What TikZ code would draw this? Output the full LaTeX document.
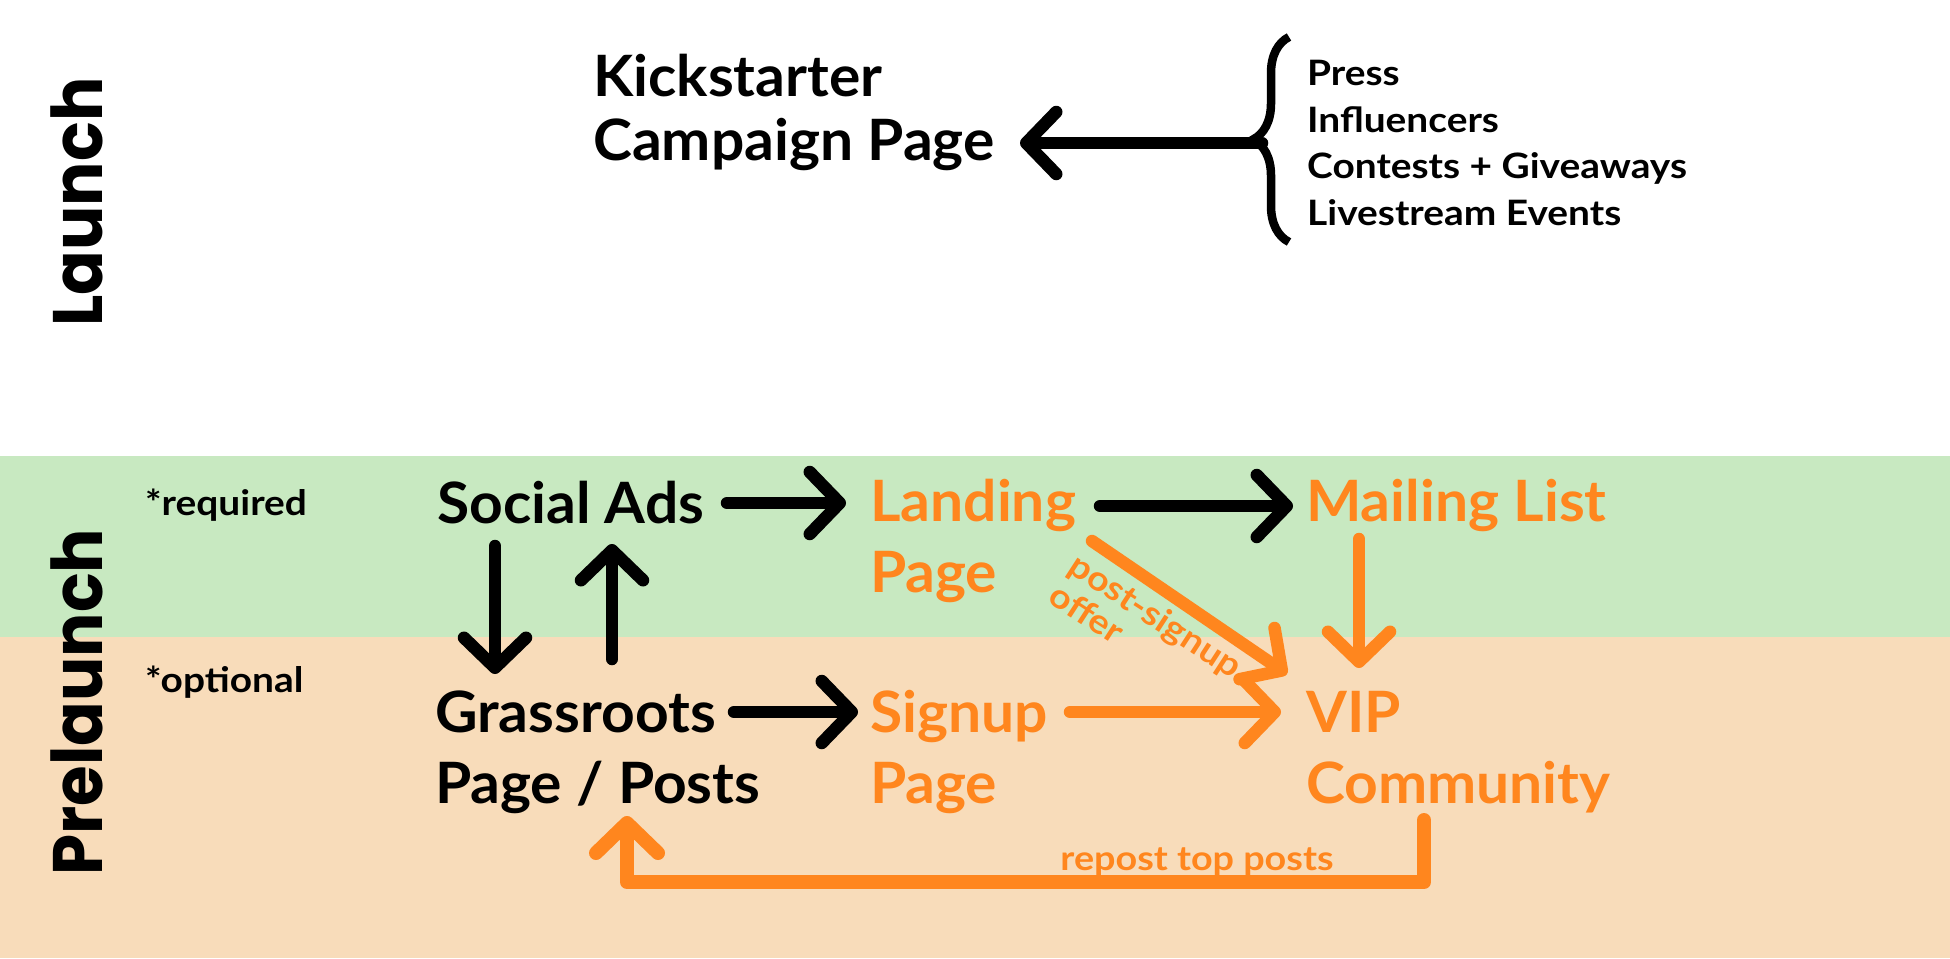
\documentclass[tikz,border=0pt]{standalone}
\usepackage{fontspec}
\setmainfont{Lato}[FakeStretch=1.03]
\newfontfamily\smallfont{Lato}[FakeStretch=1.11]
\newfontfamily\popfont{Poppins}[FakeStretch=0.94]
\usetikzlibrary{arrows.meta,decorations.pathreplacing}
\definecolor{bandgreen}{HTML}{C8E9C1}
\definecolor{bandpeach}{HTML}{F8DCBA}
\definecolor{accent}{HTML}{FF861E}
\begin{document}
\begin{tikzpicture}[x=1pt,y=-1pt,
  phase/.style={font=\popfont\bfseries\fontsize{70}{70}\selectfont, rotate=90, anchor=base, inner sep=0pt},
  big/.style={font=\bfseries\fontsize{57}{71}\selectfont, inner sep=0pt, anchor=base west, align=left},
  bigk/.style={big, font=\bfseries\fontsize{57}{64}\selectfont},
  listtxt/.style={font=\smallfont\bfseries\fontsize{35}{35}\selectfont, inner sep=0pt, anchor=base west},
  tag/.style={font=\smallfont\bfseries\fontsize{35}{35}\selectfont, inner sep=0pt, anchor=base west},
  small/.style={font=\smallfont\bfseries\fontsize{34}{36}\selectfont, inner sep=0pt, text=accent},
  barrow/.style={line width=12.5pt, line cap=round, line join=round, -{Straight Barb[length=30pt, width=62pt, round]}},
  oarrow/.style={barrow, draw=accent},
]
\fill[white] (0,0) rectangle (1950,958);
\fill[bandgreen] (0,456) rectangle (1950,637);
\fill[bandpeach] (0,637) rectangle (1950,958);
\useasboundingbox (0,0) rectangle (1950,958);

\node[phase] (launch) at (102,202) {Launch};
\node[phase] (prelaunch) at (102,702) {Prelaunch};

\node[bigk] (kick) at (593,160) {Kickstarter\\Campaign Page};
\node[listtxt] (press) at (1307,85) {Press};
\node[listtxt] (infl) at (1307,132) {Influencers};
\node[listtxt] (contests) at (1307,178) {Contests + Giveaways};
\node[listtxt] (live) at (1307,225) {Livestream Events};
\draw[line width=8.5pt, decorate, decoration={brace, amplitude=36pt}] (1289,242) -- (1289,37);
\coordinate (bracetip) at (1262,143);
\draw[barrow] (bracetip) -- ([shift={(427,-17)}]kick.base west);

\node[tag] (req) at (145,515) {*required};
\node[tag] (opt) at (145,692) {*optional};

\node[big] (social) at (437,523) {Social Ads};
\node[big, text=accent] (landing) at (870,592) {Landing\\Page};
\node[big, text=accent] (mailing) at (1306,521) {Mailing List};
\node[big] (grass) at (435,803) {Grassroots\\Page / Posts};
\node[big, text=accent] (signup) at (870,803) {Signup\\Page};
\node[big, text=accent] (vip) at (1306,803) {VIP\\Community};

\draw[barrow] ([shift={(290,-20)}]social.base west) -- ([shift={(-24,-89)}]landing.base west);
\draw[barrow] ([shift={(230,-86)}]landing.base west) -- ([shift={(-13,-15)}]mailing.base west);
\draw[barrow] ([shift={(58,23)}]social.base west) -- ([shift={(60,-129)}]grass.base west);
\draw[barrow] ([shift={(177,-144)}]grass.base west) -- ([shift={(175,21)}]social.base west);
\draw[barrow] ([shift={(299,-91)}]grass.base west) -- ([shift={(-12,-91)}]signup.base west);

\draw[oarrow] ([shift={(200,-91)}]signup.base west) -- ([shift={(-25,-91)}]vip.base west);
\draw[oarrow] ([shift={(53,18)}]mailing.base west) -- ([shift={(53,-135)}]vip.base west);
\draw[oarrow] ([shift={(222,-51)}]landing.base west) -- ([shift={(-19,-129)}]vip.base west);
\node[small, rotate=-33, align=left] (offer) at (1146,630) {post-signup\\offer};

\draw[oarrow, line width=14pt] ([shift={(118,17)}]vip.base west) -- ++(0,62) -| ([shift={(192,13)}]grass.base west);
\node[small, anchor=base] (repost) at (1197,870) {repost top posts};
\end{tikzpicture}
\end{document}
